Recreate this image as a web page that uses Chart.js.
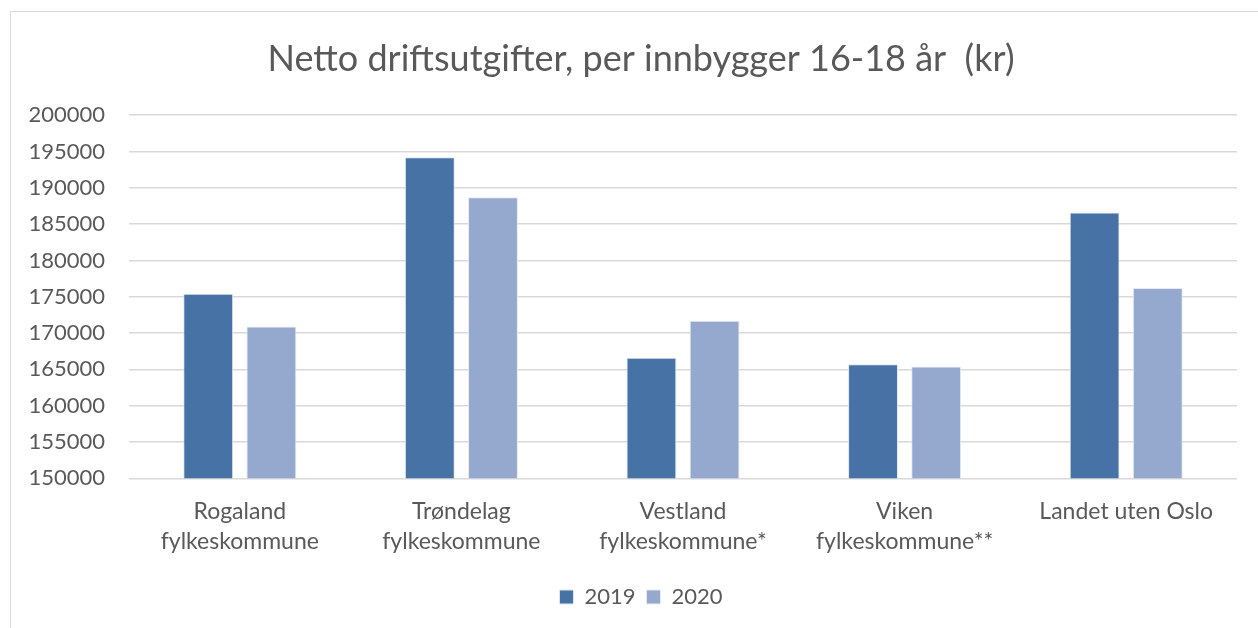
<!DOCTYPE html>
<html>
<head>
<meta charset="utf-8">
<script src="https://cdn.jsdelivr.net/npm/chart.js@4"></script>
<style>
  html, body { margin: 0; padding: 0; background: #ffffff; }
  #wrap { position: relative; width: 1258px; height: 628px; overflow: hidden; background: #fff; }
  #frame { position: absolute; left: 10px; top: 11px; width: 1300px; height: 700px; border: 1.5px solid #d9d9d9; box-sizing: border-box; }
  #box { position: absolute; left: 0; top: 0; width: 1258px; height: 628px; }
</style>
</head>
<body>
<div id="wrap">
  <div id="frame"></div>
  <div id="box"><canvas id="c"></canvas></div>
</div>
<script>
const categories = [
  ['Rogaland', 'fylkeskommune'],
  ['Trøndelag', 'fylkeskommune'],
  ['Vestland', 'fylkeskommune*'],
  ['Viken', 'fylkeskommune**'],
  'Landet uten Oslo'
];
const seriesNames = ['2019', '2020'];
const values2019 = [175400, 194200, 166600, 165700, 186600];
const values2020 = [170900, 188700, 171700, 165400, 176200];
const yMin = 150000;
const yMax = 200000;
const yStep = 5000;
const titleText = 'Netto driftsutgifter, per innbygger 16-18 år  (kr)';

const FONT = 'Lato, "Open Sans", sans-serif';
const TXT = '#595959';

new Chart(document.getElementById('c'), {
  type: 'bar',
  data: {
    labels: categories,
    datasets: [
      { label: seriesNames[0], data: values2019, backgroundColor: '#4672A6', borderColor: '#dfe6f0', borderWidth: 1,
        categoryPercentage: 0.57, barPercentage: 0.79 },
      { label: seriesNames[1], data: values2020, backgroundColor: '#95A9CF', borderColor: '#e4eaf3', borderWidth: 1,
        categoryPercentage: 0.57, barPercentage: 0.79 }
    ]
  },
  options: {
    responsive: true,
    maintainAspectRatio: false,
    animation: false,
    layout: { padding: { left: 24, right: 0, top: 38, bottom: 10 } },
    plugins: {
      title: {
        display: true, text: titleText, color: TXT,
        font: { family: FONT, size: 36, weight: 'normal' },
        padding: { top: 0, bottom: 34 }
      },
      legend: {
        position: 'bottom',
        labels: {
          color: TXT, boxWidth: 14, boxHeight: 14, padding: 11,
          font: { family: FONT, size: 22 }
        }
      },
      tooltip: { enabled: false }
    },
    scales: {
      x: {
        grid: { display: false, drawTicks: false },
        border: { display: false },
        ticks: { color: TXT, font: { family: FONT, size: 23, lineHeight: 1.32 }, padding: 18, maxRotation: 0, autoSkip: false }
      },
      y: {
        min: yMin, max: yMax,
        grid: { color: '#d9d9d9', lineWidth: 1.5, drawTicks: false },
        border: { display: false },
        ticks: { stepSize: yStep, color: TXT, font: { family: FONT, size: 22 }, padding: 24,
                 callback: (v) => String(v) },
        afterFit: (s) => { s.width = 105; }
      },
      yRightSpacer: {
        type: 'linear', position: 'right', display: true,
        min: yMin, max: yMax,
        grid: { display: false, drawTicks: false },
        border: { display: false },
        ticks: { display: false },
        afterFit: (s) => { s.width = 21; }
      }
    }
  }
});
</script>
</body>
</html>
